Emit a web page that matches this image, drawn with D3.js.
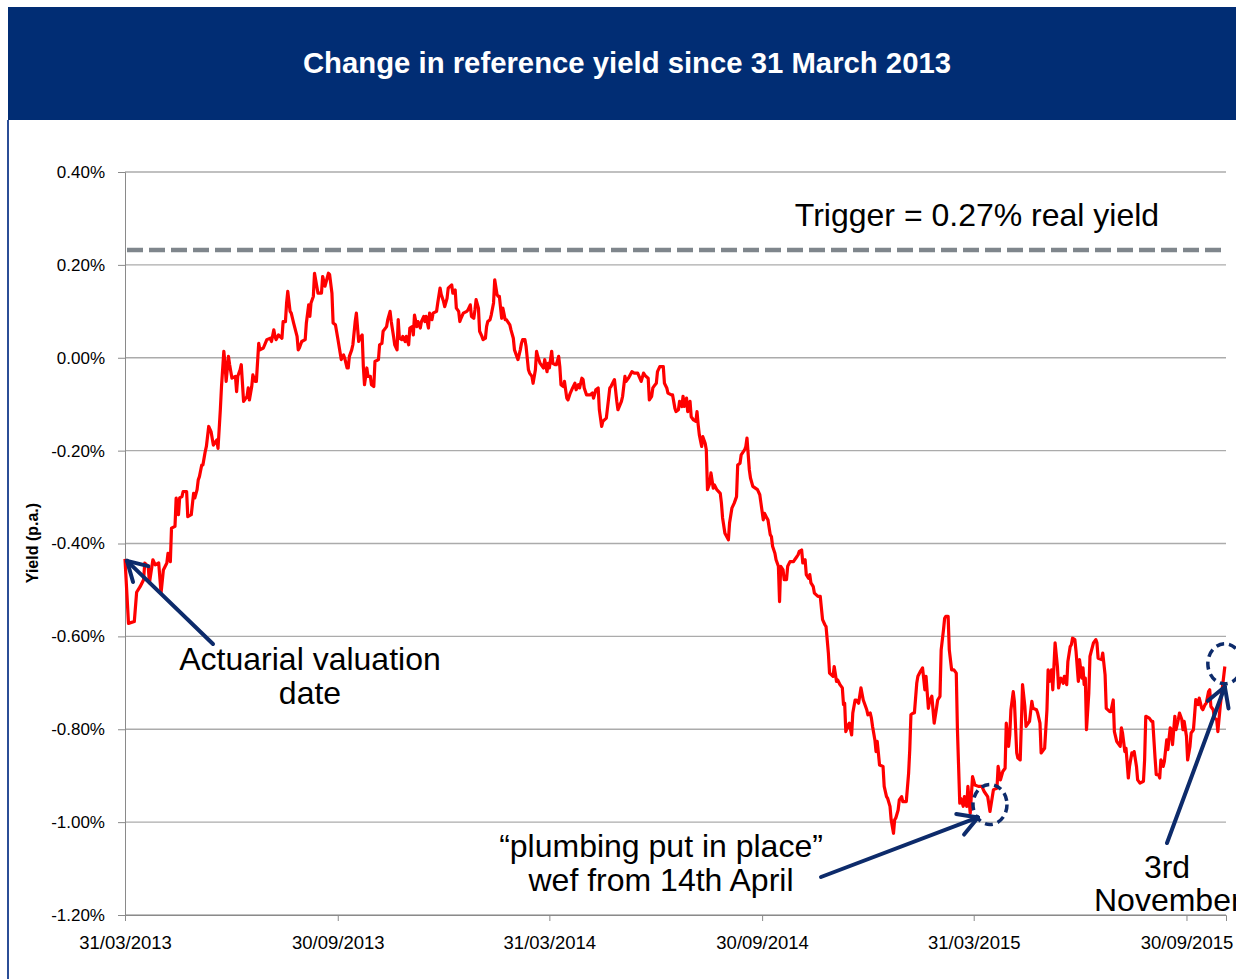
<!DOCTYPE html>
<html>
<head>
<meta charset="utf-8">
<script src="https://cdn.jsdelivr.net/npm/d3@7"></script>
<style>
  body { margin: 0; background: #fff; }
  svg { display: block; font-family: "Liberation Sans", Arial, sans-serif; }
</style>
</head>
<body>
<div id="chart"></div>
<script>
// chart title / labels
const chartTitle = "Change in reference yield since 31 March 2013";
const yAxisTitle = "Yield (p.a.)";
const startDate = "31/03/2013";
const endDayOffset = 947;

// x tick labels (dd/mm/yyyy) and y tick values (% p.a.)
const xTickLabels = ["31/03/2013", "30/09/2013", "31/03/2014", "30/09/2014", "31/03/2015", "30/09/2015"];
const yTickValues = [0.4, 0.2, 0.0, -0.2, -0.4, -0.6, -0.8, -1.0, -1.2];

// trigger level as plotted (change in yield, %)
const triggerLevel = 0.232;
const triggerLabel = "Trigger = 0.27% real yield";

// series: [days since 31/03/2013, change in yield %]
const yieldSeries = [
  [0,-0.433],[3,-0.572],[8,-0.568],[10,-0.505],[13,-0.493],[16,-0.478],[17,-0.442],[20,-0.450],[21,-0.485],[24,-0.435],
  [26,-0.446],[29,-0.442],[31,-0.507],[33,-0.457],[36,-0.442],[37,-0.421],[39,-0.439],[40,-0.367],[43,-0.363],[44,-0.302],
  [46,-0.338],[47,-0.302],[49,-0.299],[50,-0.288],[53,-0.288],[54,-0.342],[57,-0.338],[59,-0.292],[60,-0.302],[62,-0.284],
  [63,-0.263],[64,-0.256],[66,-0.231],[67,-0.231],[69,-0.202],[70,-0.191],[72,-0.148],[74,-0.159],[76,-0.188],[79,-0.177],
  [80,-0.195],[82,-0.112],[83,-0.062],[85,0.014],[86,-0.012],[87,-0.051],[89,0.003],[90,-0.015],[92,-0.044],[95,-0.040],
  [96,-0.073],[97,-0.040],[99,-0.026],[100,-0.015],[102,-0.094],[105,-0.083],[106,-0.065],[107,-0.091],[109,-0.062],[110,-0.037],
  [112,-0.051],[113,-0.051],[115,0.031],[116,0.017],[119,0.021],[122,0.039],[125,0.042],[126,0.035],[128,0.060],[129,0.046],
  [130,0.039],[132,0.049],[135,0.042],[136,0.078],[138,0.078],[139,0.118],[140,0.143],[142,0.100],[143,0.096],[145,0.075],
  [148,0.046],[149,0.017],[150,0.021],[152,0.035],[155,0.039],[156,0.075],[158,0.114],[159,0.089],[160,0.118],[162,0.132],
  [163,0.182],[166,0.139],[169,0.139],[170,0.175],[172,0.154],[175,0.182],[176,0.179],[178,0.139],[179,0.075],[181,0.071],
  [183,0.042],[186,-0.004],[188,0.006],[189,-0.001],[191,-0.022],[192,-0.022],[193,0.003],[195,0.017],[196,0.028],[198,0.078],
  [199,0.096],[201,0.035],[202,0.042],[204,0.049],[205,-0.019],[206,-0.058],[208,-0.022],[209,-0.040],[211,-0.040],[212,-0.058],
  [214,-0.062],[215,-0.008],[218,-0.004],[219,0.028],[221,0.031],[222,0.057],[225,0.067],[226,0.082],[228,0.100],[229,0.078],
  [231,0.046],[232,0.028],[234,0.017],[235,0.082],[236,0.042],[238,0.039],[239,0.046],[241,0.035],[242,0.046],[244,0.028],
  [245,0.064],[247,0.067],[248,0.049],[249,0.092],[251,0.067],[252,0.078],[254,0.064],[255,0.078],[257,0.089],[258,0.078],
  [259,0.089],[261,0.064],[262,0.096],[264,0.082],[265,0.096],[268,0.100],[269,0.118],[271,0.150],[272,0.136],[274,0.121],
  [275,0.110],[277,0.128],[278,0.150],[281,0.157],[282,0.139],[284,0.146],[285,0.107],[287,0.100],[288,0.078],[289,0.085],
  [291,0.096],[294,0.100],[295,0.103],[297,0.114],[298,0.089],[300,0.085],[301,0.103],[302,0.125],[304,0.107],[305,0.057],
  [307,0.046],[308,0.039],[310,0.042],[311,0.067],[312,0.078],[314,0.082],[315,0.092],[317,0.118],[318,0.168],[320,0.136],
  [321,0.132],[322,0.132],[324,0.085],[325,0.107],[327,0.082],[328,0.082],[331,0.071],[332,0.060],[334,0.042],[335,0.017],
  [337,0.003],[338,-0.004],[340,0.017],[341,0.031],[342,0.039],[344,0.039],[345,0.024],[347,-0.026],[348,-0.033],[350,-0.040],
  [351,-0.055],[353,-0.026],[354,0.014],[355,0.003],[357,-0.012],[358,-0.015],[360,-0.022],[361,-0.004],[363,-0.030],[364,-0.012],
  [365,-0.022],[367,0.014],[368,-0.012],[370,-0.015],[371,-0.015],[373,0.003],[374,-0.019],[375,-0.058],[377,-0.062],[378,-0.051],
  [380,-0.087],[381,-0.091],[383,-0.076],[385,-0.065],[387,-0.055],[388,-0.069],[390,-0.058],[391,-0.065],[393,-0.044],[394,-0.047],
  [395,-0.065],[397,-0.080],[400,-0.080],[402,-0.076],[403,-0.087],[405,-0.069],[407,-0.065],[408,-0.112],[410,-0.148],[411,-0.137],
  [414,-0.130],[416,-0.087],[417,-0.065],[418,-0.062],[421,-0.047],[423,-0.094],[424,-0.112],[427,-0.094],[428,-0.083],[430,-0.040],
  [431,-0.051],[433,-0.044],[436,-0.030],[438,-0.033],[441,-0.033],[444,-0.051],[446,-0.033],[447,-0.037],[448,-0.040],[450,-0.044],
  [451,-0.091],[453,-0.083],[454,-0.065],[456,-0.058],[457,-0.055],[458,-0.030],[460,-0.019],[463,-0.019],[464,-0.055],[466,-0.065],
  [467,-0.076],[470,-0.080],[471,-0.080],[473,-0.109],[474,-0.116],[476,-0.112],[477,-0.094],[479,-0.105],[480,-0.083],[481,-0.105],
  [483,-0.087],[484,-0.116],[486,-0.094],[487,-0.127],[489,-0.134],[491,-0.137],[492,-0.116],[493,-0.144],[494,-0.166],[496,-0.191],
  [497,-0.170],[499,-0.184],[500,-0.198],[501,-0.284],[503,-0.270],[504,-0.248],[506,-0.281],[507,-0.274],[509,-0.284],[512,-0.292],
  [513,-0.313],[514,-0.345],[516,-0.378],[519,-0.392],[520,-0.356],[522,-0.324],[524,-0.313],[526,-0.299],[527,-0.231],[529,-0.227],
  [530,-0.209],[533,-0.198],[534,-0.191],[535,-0.173],[537,-0.241],[538,-0.259],[540,-0.277],[544,-0.284],[546,-0.295],[547,-0.313],
  [549,-0.349],[550,-0.335],[552,-0.345],[553,-0.349],[555,-0.381],[556,-0.385],[557,-0.406],[559,-0.421],[560,-0.435],[562,-0.449],
  [563,-0.525],[564,-0.449],[566,-0.457],[567,-0.478],[569,-0.478],[570,-0.449],[572,-0.439],[575,-0.439],[576,-0.435],[578,-0.428],
  [579,-0.424],[580,-0.417],[582,-0.414],[583,-0.442],[585,-0.435],[586,-0.467],[588,-0.475],[589,-0.467],[590,-0.485],[592,-0.493],
  [593,-0.507],[596,-0.514],[598,-0.514],[600,-0.564],[602,-0.575],[603,-0.579],[605,-0.636],[606,-0.679],[609,-0.686],[610,-0.665],
  [612,-0.697],[613,-0.694],[615,-0.704],[617,-0.711],[618,-0.747],[619,-0.744],[620,-0.805],[622,-0.791],[623,-0.787],[625,-0.812],
  [626,-0.765],[628,-0.737],[629,-0.737],[631,-0.744],[633,-0.711],[635,-0.737],[638,-0.758],[639,-0.769],[641,-0.765],[642,-0.776],
  [643,-0.794],[645,-0.823],[646,-0.848],[647,-0.826],[648,-0.851],[649,-0.877],[652,-0.880],[653,-0.923],[655,-0.945],[656,-0.949],
  [658,-0.966],[659,-0.995],[661,-1.024],[662,-0.995],[663,-0.991],[665,-0.974],[666,-0.952],[668,-0.945],[669,-0.956],[671,-0.956],
  [672,-0.956],[674,-0.895],[675,-0.844],[676,-0.769],[678,-0.765],[679,-0.765],[681,-0.701],[682,-0.686],[684,-0.676],[685,-0.672],
  [686,-0.668],[688,-0.715],[689,-0.686],[691,-0.755],[692,-0.740],[694,-0.729],[695,-0.758],[696,-0.787],[698,-0.755],[699,-0.737],
  [701,-0.729],[702,-0.629],[704,-0.586],[705,-0.561],[706,-0.557],[708,-0.557],[709,-0.629],[711,-0.672],[713,-0.672],[715,-0.679],
  [716,-0.801],[718,-0.959],[719,-0.949],[721,-0.966],[722,-0.945],[724,-0.966],[725,-0.923],[727,-0.981],[729,-0.902],[731,-0.920],
  [734,-0.923],[737,-0.923],[739,-0.934],[742,-0.945],[744,-0.977],[747,-0.930],[750,-0.927],[751,-0.880],[753,-0.909],[755,-0.891],
  [757,-0.884],[758,-0.787],[760,-0.837],[761,-0.812],[762,-0.758],[764,-0.719],[765,-0.740],[767,-0.851],[768,-0.862],[770,-0.866],
  [771,-0.787],[772,-0.704],[774,-0.751],[775,-0.794],[778,-0.783],[780,-0.740],[781,-0.755],[784,-0.758],[785,-0.765],[787,-0.787],
  [788,-0.851],[791,-0.841],[793,-0.758],[794,-0.672],[795,-0.697],[797,-0.672],[798,-0.715],[800,-0.614],[802,-0.665],[803,-0.711],
  [804,-0.697],[805,-0.690],[807,-0.701],[808,-0.686],[810,-0.704],[811,-0.654],[813,-0.622],[814,-0.618],[815,-0.604],[817,-0.607],
  [818,-0.632],[820,-0.697],[821,-0.650],[823,-0.690],[824,-0.668],[825,-0.704],[826,-0.690],[827,-0.801],[829,-0.722],[830,-0.643],
  [833,-0.614],[835,-0.607],[836,-0.614],[837,-0.647],[840,-0.650],[841,-0.636],[843,-0.683],[844,-0.755],[847,-0.762],[848,-0.762],
  [850,-0.737],[851,-0.805],[853,-0.826],[854,-0.830],[856,-0.837],[857,-0.797],[858,-0.808],[860,-0.848],[861,-0.841],[863,-0.905],
  [864,-0.880],[866,-0.851],[867,-0.855],[868,-0.848],[870,-0.880],[871,-0.909],[873,-0.916],[876,-0.912],[877,-0.866],[878,-0.772],
  [881,-0.776],[883,-0.783],[884,-0.783],[886,-0.862],[887,-0.898],[889,-0.898],[890,-0.905],[891,-0.866],[893,-0.880],[894,-0.869],
  [896,-0.823],[897,-0.844],[899,-0.797],[900,-0.801],[901,-0.833],[903,-0.772],[904,-0.801],[906,-0.779],[907,-0.765],[909,-0.779],
  [910,-0.801],[911,-0.783],[913,-0.815],[914,-0.866],[916,-0.837],[917,-0.808],[919,-0.801],[920,-0.769],[921,-0.736],[923,-0.747],
  [924,-0.733],[926,-0.754],[927,-0.758],[929,-0.747],[930,-0.744],[932,-0.719],[933,-0.715],[934,-0.751],[936,-0.758],[937,-0.776],
  [939,-0.779],[940,-0.805],[942,-0.751],[943,-0.729],[944,-0.708],[946,-0.665]
];

// annotated points: [days since start, yield %]
const valuationPoint = [0, -0.433];
const plumbingPoint = [744, -0.962];
const novemberPoint = [946, -0.659];

const width = 1236, height = 979;
const margin = {top: 172, right: 10, bottom: 64, left: 125};
const navy = "#012d74";
const arrowColor = "#0d2b6b";
const noteSize = "32px";

const parseDate = d3.timeParse("%d/%m/%Y");
const t0 = parseDate(startDate);
const toDate = day => d3.timeDay.offset(t0, day);

const svg = d3.select("#chart").append("svg")
    .attr("width", width)
    .attr("height", height);

svg.append("rect").attr("width", width).attr("height", height).attr("fill", "#fff");

// header band
svg.append("rect")
    .attr("x", 8).attr("y", 7)
    .attr("width", width - 8).attr("height", 113)
    .attr("fill", navy);
svg.append("text")
    .attr("x", 627).attr("y", 73)
    .attr("text-anchor", "middle")
    .attr("fill", "#fff")
    .style("font-weight", "bold")
    .style("font-size", "29.3px")
    .text(chartTitle);

// left frame line
svg.append("line")
    .attr("x1", 8).attr("x2", 8)
    .attr("y1", 120).attr("y2", height)
    .attr("stroke", "#2b4e96").attr("stroke-width", 2);

const x = d3.scaleTime()
    .domain([t0, toDate(endDayOffset)])
    .range([margin.left, width - margin.right]);

const y = d3.scaleLinear()
    .domain([-1.2, 0.4])
    .range([height - margin.bottom, margin.top]);

// gridlines
svg.append("g")
    .selectAll("line")
    .data(yTickValues)
    .join("line")
    .attr("x1", margin.left)
    .attr("x2", width - margin.right)
    .attr("y1", d => y(d))
    .attr("y2", d => y(d))
    .attr("stroke", "#ababab")
    .attr("stroke-width", 1.3);

// y axis
const pct = d => d3.format(".2f")(d).replace("\u2212", "-") + "%";
const yAxis = svg.append("g")
    .attr("transform", `translate(${margin.left},0)`)
    .call(d3.axisLeft(y)
        .tickValues(yTickValues)
        .tickSize(7)
        .tickPadding(13)
        .tickFormat(pct));
yAxis.select(".domain").attr("stroke", "#8a8a8a");
yAxis.selectAll(".tick line").attr("stroke", "#8a8a8a");
yAxis.selectAll(".tick text")
    .style("font-size", "17px")
    .style("font-family", "'Liberation Sans', Arial, sans-serif")
    .attr("fill", "#000");

// x axis
const xAxis = svg.append("g")
    .attr("transform", `translate(0,${height - margin.bottom})`)
    .call(d3.axisBottom(x)
        .tickValues(xTickLabels.map(parseDate))
        .tickSize(6)
        .tickPadding(15)
        .tickFormat(d3.timeFormat("%d/%m/%Y")));
xAxis.select(".domain").attr("stroke", "#8a8a8a");
xAxis.selectAll(".tick line").attr("stroke", "#8a8a8a");
xAxis.selectAll(".tick text")
    .style("font-size", "18.5px")
    .style("font-family", "'Liberation Sans', Arial, sans-serif")
    .attr("fill", "#000");

// y axis title
svg.append("text")
    .attr("transform", `translate(38,543) rotate(-90)`)
    .attr("text-anchor", "middle")
    .style("font-weight", "bold")
    .style("font-size", "16px")
    .text(yAxisTitle);

// trigger line
svg.append("line")
    .attr("x1", margin.left + 2)
    .attr("x2", width - margin.right - 4)
    .attr("y1", y(triggerLevel))
    .attr("y2", y(triggerLevel))
    .attr("stroke", "#7f868c")
    .attr("stroke-width", 4.5)
    .attr("stroke-dasharray", "16,6");
svg.append("text")
    .attr("x", 977).attr("y", 226)
    .attr("text-anchor", "middle")
    .style("font-size", noteSize)
    .text(triggerLabel);

// yield line
const line = d3.line()
    .x(d => x(toDate(d[0])))
    .y(d => y(d[1]));

svg.append("path")
    .datum(yieldSeries)
    .attr("fill", "none")
    .attr("stroke", "#ff0000")
    .attr("stroke-width", 3.2)
    .attr("stroke-linejoin", "round")
    .attr("d", line);

// annotations
function px(p) { return [x(toDate(p[0])), y(p[1])]; }

function arrow(x1, y1, x2, y2) {
    const g = svg.append("g")
        .attr("stroke", arrowColor)
        .attr("stroke-width", 4)
        .attr("stroke-linecap", "round")
        .attr("fill", "none");
    g.append("line").attr("x1", x1).attr("y1", y1).attr("x2", x2).attr("y2", y2);
    const a = Math.atan2(y1 - y2, x1 - x2);
    const len = 22, spread = Math.PI / 6;
    [a - spread, a + spread].forEach(b => {
        g.append("line")
            .attr("x1", x2).attr("y1", y2)
            .attr("x2", x2 + len * Math.cos(b))
            .attr("y2", y2 + len * Math.sin(b));
    });
}

function ring(p) {
    const [cx, cy] = px(p);
    svg.append("ellipse")
        .attr("cx", cx).attr("cy", cy)
        .attr("rx", 17).attr("ry", 20)
        .attr("fill", "none")
        .attr("stroke", arrowColor)
        .attr("stroke-width", 3.5)
        .attr("stroke-dasharray", "8,5");
}

function label(lines, cx, y0) {
    const t = svg.append("text")
        .attr("text-anchor", "middle")
        .style("font-size", noteSize);
    lines.forEach((s, i) => {
        t.append("tspan").attr("x", cx).attr("y", y0 + i * 34).text(s);
    });
}

// actuarial valuation date
const v = px(valuationPoint);
arrow(213, 644, v[0] + 2, v[1] + 2);
label(["Actuarial valuation", "date"], 310, 670);

// plumbing
ring(plumbingPoint);
const pp = px(plumbingPoint);
arrow(821, 877, pp[0] - 12, pp[1] + 13);
label(["\u201Cplumbing put in place\u201D", "wef from 14th April"], 661, 857);

// 3rd November
ring(novemberPoint);
const np = px(novemberPoint);
arrow(1167, 843, np[0], np[1] + 23);
svg.append("text").attr("x", 1167).attr("y", 878)
    .attr("text-anchor", "middle").style("font-size", noteSize).text("3rd");
svg.append("text").attr("x", 1094).attr("y", 911)
    .style("font-size", noteSize).text("November");
</script>
</body>
</html>
